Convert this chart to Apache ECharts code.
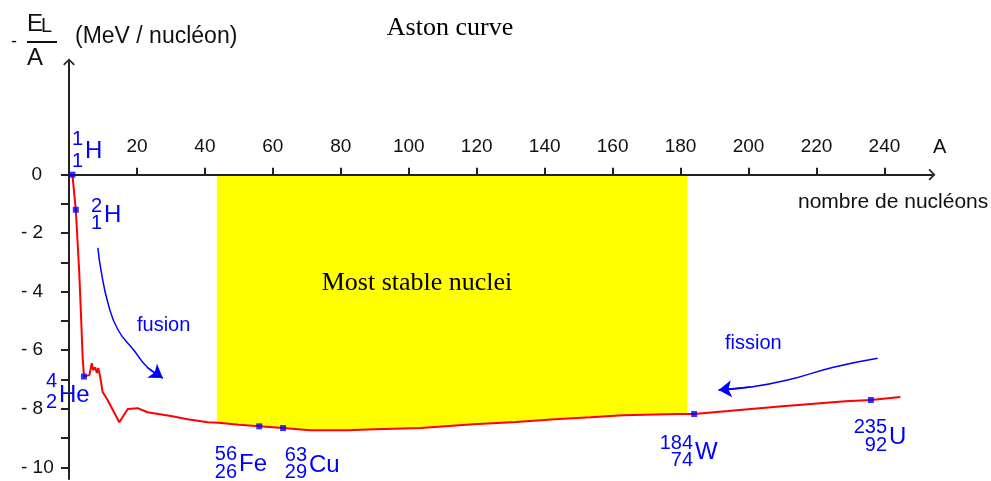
<!DOCTYPE html>
<html>
<head>
<meta charset="utf-8">
<script src="https://cdn.jsdelivr.net/npm/echarts@6/dist/echarts.min.js"></script>
<style>html,body{margin:0;padding:0;background:#fff;}#c{width:991px;height:481px;}</style>
</head>
<body>
<div id="c"></div>
<script>
// ---- data ----
const curveA = [1, 2, 3, 3.5, 4, 4.4, 6, 6.7, 7.1, 7.7, 8.2, 8.6, 9.2, 9.9, 11.4, 14.8, 17.3, 20.2, 23.1, 30, 34.9, 40.8, 44, 50, 56, 63, 71, 82, 90, 103.5, 119, 131.5, 143, 153.5, 163, 179, 184, 194, 210, 228.5, 236, 244.7];
const curveE = [0, -1.2, -3.3, -4.7, -6.2, -6.9, -6.85, -6.44, -6.68, -6.58, -6.78, -6.61, -6.92, -7.43, -7.71, -8.46, -8.01, -7.98, -8.12, -8.25, -8.36, -8.46, -8.48, -8.55, -8.6, -8.66, -8.73, -8.73, -8.7, -8.66, -8.53, -8.45, -8.36, -8.29, -8.22, -8.18, -8.18, -8.08, -7.91, -7.74, -7.7, -7.6];
const stableRange = [43.5, 182];
const stableEdgeE = [-8.47, -8.17];
const nuclideA = [1, 2, 4.4, 56, 63, 184, 236];
const nuclideE = [0, -1.2, -6.9, -8.6, -8.66, -8.18, -7.7];
const nuclideMass = ['1', '2', '4', '56', '63', '184', '235'];
const nuclideZ = ['1', '1', '2', '26', '29', '74', '92'];
const nuclideSym = ['H', 'H', 'He', 'Fe', 'Cu', 'W', 'U'];
const fusionA = [8.5, 9.4, 11.5, 14.4, 19.1, 23.2, 27.6];
const fusionE = [-2.5, -3.25, -4.4, -5.3, -6.0, -6.6, -6.95];
const fissionA = [238, 225, 211.5, 200.6, 191.2];
const fissionE = [-6.27, -6.58, -7.02, -7.26, -7.36];
const xTicks = [20, 40, 60, 80, 100, 120, 140, 160, 180, 200, 220, 240];
const yTicks = [0, -1, -2, -3, -4, -5, -6, -7, -8, -9, -10];
const yLabels = [0, -2, -4, -6, -8, -10];

// ---- layout (pixels) for annotation labels ----
const nucLayout = [
  {x: 83, m: 139, z: 161, s: 151},
  {x: 102, m: 206, z: 223, s: 215},
  {x: 57, m: 381, z: 402, s: 395},
  {x: 237, m: 454, z: 472, s: 464},
  {x: 307, m: 455, z: 472, s: 465},
  {x: 693, m: 443, z: 460, s: 452},
  {x: 887, m: 427, z: 445, s: 437}
];

const SANS = '"Liberation Sans", Arial, sans-serif';
const SERIF = '"Liberation Serif", "Times New Roman", serif';
const BLUE = '#0000ff';
const AXIS = '#222';
const chevron = 'path://M0,10 L10,0 L20,10 L18,12 L10,4 L2,12 Z';

const zip = (a, b) => a.map((v, i) => [v, b[i]]);
const curve = zip(curveA, curveE);
const stable = [[stableRange[0], stableEdgeE[0]]]
  .concat(curve.filter(p => p[0] > stableRange[0] && p[0] < stableRange[1]))
  .concat([[stableRange[1], stableEdgeE[1]]]);
const fusion = zip(fusionA, fusionE);
const fission = zip(fissionA, fissionE);

const graphic = [];
function txt(x, y, text, size, opts) {
  graphic.push(Object.assign({
    type: 'text', x: x, y: y,
    style: Object.assign({text: text, font: size + 'px ' + SANS, fill: '#111',
      textAlign: 'left', textVerticalAlign: 'middle'}, opts || {})
  }));
}
// title & inner label
txt(450, 28, 'Aston curve', 26, {font: '26px ' + SERIF, textAlign: 'center', fill: '#000'});
txt(417, 283, 'Most stable nuclei', 26, {font: '26px ' + SERIF, textAlign: 'center', fill: '#000'});
// y-axis name as fraction
txt(11, 42, '-', 18);
txt(27, 24, 'E', 24);
txt(41, 26, 'L', 20);
graphic.push({type: 'line', shape: {x1: 27, y1: 42, x2: 57, y2: 42}, style: {stroke: '#111', lineWidth: 2}});
txt(27, 58, 'A', 24);
txt(75, 37, '(MeV / nucléon)', 23);
// x-axis names
txt(933, 147, 'A', 20);
txt(798, 202, 'nombre de nucléons', 21);
// fusion / fission words
txt(137, 325, 'fusion', 20, {fill: BLUE});
txt(725, 343, 'fission', 20, {fill: BLUE});
// nuclide labels
nuclideSym.forEach((s, i) => {
  const L = nucLayout[i];
  txt(L.x, L.m, nuclideMass[i], 20, {fill: BLUE, textAlign: 'right'});
  txt(L.x, L.z, nuclideZ[i], 20, {fill: BLUE, textAlign: 'right'});
  txt(L.x + 2, L.s, s, 24, {fill: BLUE});
});

const GRID = {left: 69, right: 59, top: 62, bottom: 2};
const Y_MIN = -10.4, Y_MAX = 3.85;
const gridH = 481 - GRID.top - GRID.bottom;
const xAxisOffset = -gridH * (0 - Y_MIN) / (Y_MAX - Y_MIN);

const chart = echarts.init(document.getElementById('c'), null, {renderer: 'canvas'});
chart.setOption({
  animation: false,
  backgroundColor: '#fff',
  grid: GRID,
  xAxis: {
    type: 'value', min: 0, max: 254, position: 'bottom', offset: xAxisOffset,
    axisLine: {onZero: false, symbol: ['none', chevron], symbolSize: [12, 7], lineStyle: {color: AXIS, width: 2}},
    axisTick: {show: true, inside: true, length: 7, customValues: xTicks, lineStyle: {color: AXIS, width: 2}},
    axisLabel: {inside: true, customValues: xTicks, margin: 18, fontSize: 19, fontFamily: SANS, color: '#111'},
    splitLine: {show: false}
  },
  yAxis: {
    type: 'value', min: Y_MIN, max: Y_MAX,
    axisLine: {onZero: false, symbol: ['none', chevron], symbolSize: [12, 7], lineStyle: {color: AXIS, width: 2}},
    axisTick: {show: true, length: 8, customValues: yTicks, lineStyle: {color: AXIS, width: 2}},
    axisLabel: {customValues: yLabels, align: 'left', margin: 48, fontSize: 19, fontFamily: SANS, color: '#111',
      formatter: v => v === 0 ? '  0' : '- ' + (-v)},
    splitLine: {show: false}
  },
  graphic: graphic,
  series: [
    {type: 'line', data: stable, showSymbol: false, z: -1, lineStyle: {width: 0},
      areaStyle: {color: '#ffff00', opacity: 1}, silent: true},
    {type: 'line', data: curve, showSymbol: false, lineStyle: {color: '#ff0000', width: 2}, z: 3},
    {type: 'line', data: fusion, showSymbol: false, smooth: true, lineStyle: {color: BLUE, width: 1.5}},
    {type: 'line', data: fission, showSymbol: false, smooth: true, lineStyle: {color: BLUE, width: 1.5}},
    {type: 'lines', coordinateSystem: 'cartesian2d', symbol: ['none', 'arrow'], symbolSize: 13,
      lineStyle: {color: BLUE, width: 1.5, opacity: 1},
      data: [{coords: fusion.slice(-2)}, {coords: fission.slice(-2)}]},
    {type: 'scatter', data: zip(nuclideA, nuclideE), symbol: 'rect', symbolSize: 6,
      itemStyle: {color: BLUE}, z: 5}
  ]
});
</script>
</body>
</html>
